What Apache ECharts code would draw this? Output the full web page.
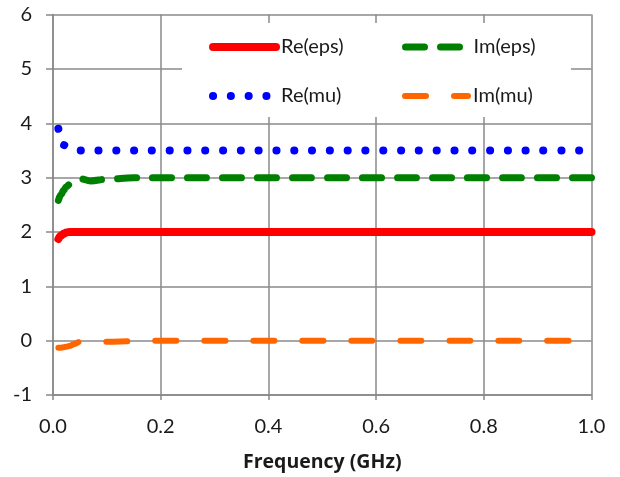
<!DOCTYPE html>
<html>
<head>
<meta charset="utf-8">
<script src="https://cdn.jsdelivr.net/npm/echarts@6/dist/echarts.min.js"></script>
<style>
html,body{margin:0;padding:0;background:#fff;}
#chart{width:620px;height:477px;}
</style>
</head>
<body>
<div id="chart"></div>
<script>
// ---- data ----
var freq    = [0.01, 0.015, 0.02, 0.025, 0.03, 0.04, 0.05, 0.07, 0.1, 0.15, 0.2, 0.3, 0.4, 0.5, 0.6, 0.7, 0.8, 0.9, 1.0];
var reEps   = [1.87, 1.93, 1.97, 1.99, 2.0, 2.0, 2.0, 2.0, 2.0, 2.0, 2.0, 2.0, 2.0, 2.0, 2.0, 2.0, 2.0, 2.0, 2.0];
var imEps   = [2.58, 2.69, 2.77, 2.83, 2.87, 2.93, 2.98, 2.94, 2.97, 3.0, 3.0, 3.0, 3.0, 3.0, 3.0, 3.0, 3.0, 3.0, 3.0];
var reMu    = [3.9, 3.72, 3.6, 3.56, 3.53, 3.51, 3.5, 3.5, 3.5, 3.5, 3.5, 3.5, 3.5, 3.5, 3.5, 3.5, 3.5, 3.5, 3.5];
var imMu    = [-0.13, -0.13, -0.12, -0.11, -0.1, -0.06, -0.02, -0.02, -0.02, -0.01, 0, 0, 0, 0, 0, 0, 0, 0, 0];
var seriesNames = ['Re(eps)', 'Im(eps)', 'Re(mu)', 'Im(mu)'];
var xTicks = { min: 0, max: 1, interval: 0.2 };
var yTicks = { min: -1, max: 6, interval: 1 };
var xTitle = 'Frequency (GHz)';

function pairs(vals) { return freq.map(function (f, i) { return [f, vals[i]]; }); }

var FONT = 'Lato, "Open Sans", "Liberation Sans", sans-serif';
var TITLE_FONT = '"Open Sans", Lato, "Liberation Sans", sans-serif';
var chart = echarts.init(document.getElementById('chart'), null, { renderer: 'canvas' });

var styles = [
  { color: '#FF0000', width: 8, type: 'solid' },
  { color: '#008000', width: 7, type: [19, 16] },
  { color: '#0000FF', width: 8, type: [0.1, 17.7] },
  { color: '#FF6600', width: 6, type: [21, 28] }
];
var dataSets = [reEps, imEps, reMu, imMu];

var series = seriesNames.map(function (name, i) {
  return {
    name: name,
    type: 'line',
    data: pairs(dataSets[i]),
    symbol: 'none',
    smooth: 0.4,
    smoothMonotone: 'x',
    color: styles[i].color,
    lineStyle: { color: styles[i].color, width: styles[i].width, type: styles[i].type, cap: 'round', join: 'round' },
    z: 2
  };
});

var legendPos = [
  { left: 209, top: 37 },
  { left: 402, top: 37 },
  { left: 209, top: 86 },
  { left: 402, top: 86 }
];
var legends = seriesNames.map(function (name, i) {
  return {
    data: [name],
    left: legendPos[i].left,
    top: legendPos[i].top,
    padding: 0,
    itemWidth: 63,
    itemHeight: 14,
    selectedMode: false,
    itemStyle: { opacity: 0 },
    lineStyle: { width: styles[i].width, type: styles[i].type, cap: 'round', color: styles[i].color },
    textStyle: { fontFamily: FONT, fontSize: 20, color: '#1a1a1a', padding: [0, 0, 0, 0] },
    z: 4
  };
});

chart.setOption({
  animation: false,
  backgroundColor: '#ffffff',
  grid: { left: 53, right: 28.5, top: 14.6, bottom: 81.6, containLabel: false },
  xAxis: {
    type: 'value',
    min: xTicks.min, max: xTicks.max, interval: xTicks.interval,
    name: xTitle,
    nameLocation: 'middle',
    nameGap: 57,
    nameTextStyle: { fontFamily: TITLE_FONT, fontSize: 19.5, fontWeight: 'bold', color: '#1a1a1a' },
    axisLine: { onZero: false, lineStyle: { color: '#888888', width: 1.5 } },
    axisTick: { show: true, length: 5, lineStyle: { color: '#888888', width: 1.5 } },
    axisLabel: { margin: 22, fontFamily: FONT, fontSize: 20, color: '#1a1a1a',
      formatter: function (v) { return v.toFixed(1); } },
    splitLine: { show: true, lineStyle: { color: '#8a8a8a', width: 1.5 } }
  },
  yAxis: {
    type: 'value',
    min: yTicks.min, max: yTicks.max, interval: yTicks.interval,
    axisLine: { show: true, onZero: false, lineStyle: { color: '#888888', width: 1.5 } },
    axisTick: { show: true, length: 7, lineStyle: { color: '#888888', width: 1.5 } },
    axisLabel: { margin: 21, fontFamily: FONT, fontSize: 20, color: '#1a1a1a' },
    splitLine: { show: true, lineStyle: { color: '#8a8a8a', width: 1.5 } }
  },
  legend: legends,
  graphic: [{
    type: 'rect',
    z: 3,
    silent: true,
    shape: { x: 182, y: 23, width: 389, height: 94 },
    style: { fill: '#ffffff' }
  }],
  series: series
});
</script>
</body>
</html>
